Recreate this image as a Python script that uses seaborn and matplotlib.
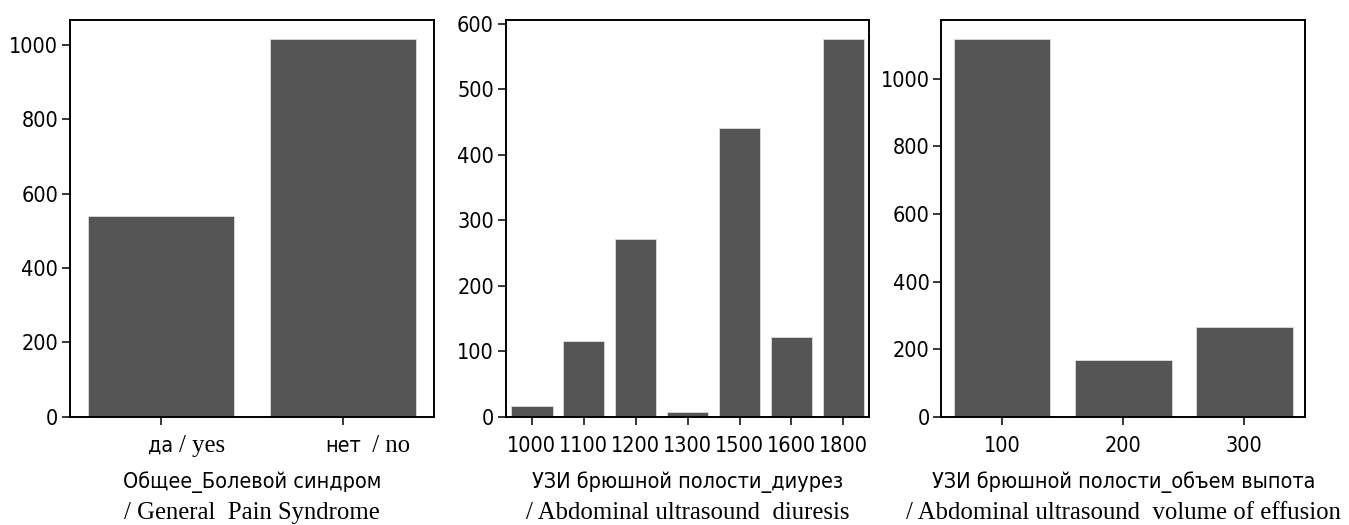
import matplotlib
matplotlib.use("Agg")
import matplotlib.pyplot as plt
import seaborn as sns
import pandas as pd

# Counts per category for each examined feature
pain_labels = ["да", "нет"]
pain_labels_en = ["/ yes", " / no"]
pain_counts = [541, 1016]

diuresis_labels = ["1000", "1100", "1200", "1300", "1500", "1600", "1800"]
diuresis_counts = [17, 116, 272, 8, 441, 122, 577]

effusion_labels = ["100", "200", "300"]
effusion_counts = [1118, 168, 267]

titles_ru = [
    "Общее_Болевой синдром",
    "УЗИ брюшной полости_диурез",
    "УЗИ брюшной полости_объем выпота",
]
titles_en = [
    "/ General  Pain Syndrome",
    "/ Abdominal ultrasound  diuresis",
    "/ Abdominal ultrasound  volume of effusion",
]

sns.set_style("ticks")
plt.rcParams["font.family"] = ["DejaVu Sans"]
plt.rcParams["font.stretch"] = "condensed"
plt.rcParams["axes.labelcolor"] = "black"
plt.rcParams["text.color"] = "black"

SANS = 15.5
SERIF = 17.8
BAR = "#555555"

fig, axes = plt.subplots(1, 3, figsize=(13.49, 5.25), dpi=100)
fig.subplots_adjust(left=0.052, right=0.9674, top=0.962, bottom=0.206, wspace=0.198)

panels = [
    (pain_labels, pain_counts),
    (diuresis_labels, diuresis_counts),
    (effusion_labels, effusion_counts),
]

for ax, (labels, counts), t_ru, t_en in zip(axes, panels, titles_ru, titles_en):
    df = pd.DataFrame({"category": labels, "count": counts})
    sns.barplot(data=df, x="category", y="count", order=labels, color=BAR,
                saturation=1, edgecolor="#dddddd", linewidth=0.6, ax=ax)
    ax.set_xticks(range(len(labels)))
    ax.set_xticklabels(labels)
    ax.set_ylabel("")
    ax.set_xlabel(t_ru, fontsize=SANS, labelpad=11, color="black")
    for side in ["top", "right", "left", "bottom"]:
        ax.spines[side].set_visible(True)
        ax.spines[side].set_color("black")
        ax.spines[side].set_linewidth(1.4)
    ax.tick_params(axis="both", labelsize=SANS, length=5.5, width=1.1,
                   direction="out", pad=3, colors="black")
    ax.tick_params(axis="x", pad=8)
    ax.set_ylim(0, max(counts) * 1.05)
    ax.annotate(t_en, xy=(0.5, 0), xycoords=ax.xaxis.label,
                xytext=(0, -7), textcoords="offset points",
                ha="center", va="top", fontsize=SERIF,
                family="Liberation Serif", fontstretch="normal", color="black")

axes[0].set_yticks([0, 200, 400, 600, 800, 1000])
axes[1].set_yticks([0, 100, 200, 300, 400, 500, 600])
axes[2].set_yticks([0, 200, 400, 600, 800, 1000])

# English translations next to the Russian category names
for lab, en in zip(axes[0].get_xticklabels(), pain_labels_en):
    axes[0].annotate(en, xy=(1, 0), xycoords=lab, xytext=(4, -1),
                     textcoords="offset points", ha="left", va="bottom",
                     fontsize=SERIF, family="Liberation Serif",
                     fontstretch="normal", color="black")

fig.savefig("out.png", dpi=100)
